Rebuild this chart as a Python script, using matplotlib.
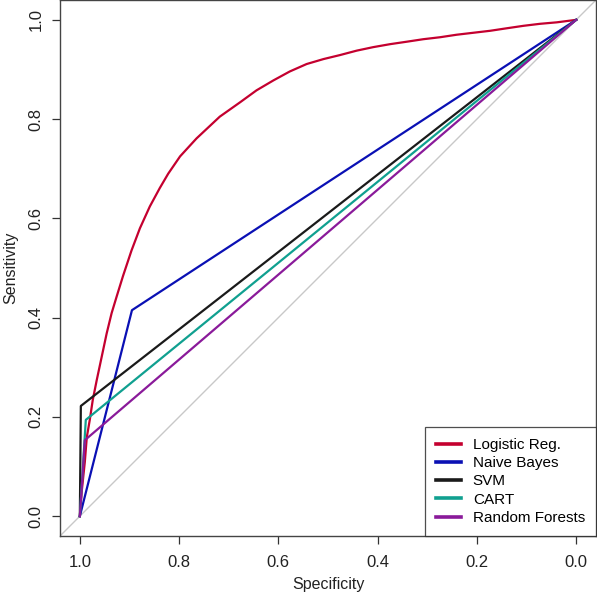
import matplotlib
matplotlib.use("Agg")
import matplotlib.pyplot as plt

plt.rcParams['font.family'] = ['Liberation Sans', 'DejaVu Sans']

# ROC curves: specificity (x) and sensitivity (y)
lr_spec = [1.0, 0.996, 0.990, 0.986, 0.980, 0.974, 0.966, 0.956, 0.946, 0.936,
           0.926, 0.913, 0.896, 0.879, 0.859, 0.839, 0.822, 0.798, 0.765, 0.718,
           0.677, 0.644, 0.610, 0.577, 0.543, 0.509, 0.476, 0.442, 0.409, 0.375,
           0.341, 0.308, 0.274, 0.241, 0.207, 0.173, 0.140, 0.106, 0.073, 0.039, 0.0]
lr_sens = [0.0, 0.052, 0.109, 0.159, 0.194, 0.234, 0.274, 0.321, 0.368, 0.409,
           0.442, 0.484, 0.535, 0.580, 0.624, 0.661, 0.690, 0.725, 0.761, 0.805,
           0.834, 0.858, 0.878, 0.896, 0.911, 0.921, 0.929, 0.938, 0.945, 0.951,
           0.956, 0.961, 0.965, 0.970, 0.974, 0.978, 0.983, 0.988, 0.992, 0.995, 1.0]

nb_spec = [1.0, 0.895, 0.0]
nb_sens = [0.0, 0.415, 1.0]

svm_spec = [1.0, 0.998, 0.0]
svm_sens = [0.0, 0.222, 1.0]

cart_spec = [1.0, 0.988, 0.0]
cart_sens = [0.0, 0.194, 1.0]

rf_spec = [1.0, 0.990, 0.0]
rf_sens = [0.0, 0.153, 1.0]

labels = ["Logistic Reg.", "Naive Bayes", "SVM", "CART", "Random Forests"]
colors = ["#C4002F", "#0A10B4", "#1A1A1A", "#10A090", "#8A1A9A"]

ticks = [0.0, 0.2, 0.4, 0.6, 0.8, 1.0]
tick_labels = ["0.0", "0.2", "0.4", "0.6", "0.8", "1.0"]

fig = plt.figure(figsize=(5.97, 6.0), dpi=100)
ax = fig.add_axes([60/597, 64/600, 536/597, 536/600])

ax.axline((1, 0), (0, 1), color="#C8C8C8", lw=1.0, zorder=1)

series = [(lr_spec, lr_sens), (nb_spec, nb_sens), (svm_spec, svm_sens),
          (cart_spec, cart_sens), (rf_spec, rf_sens)]
for (sx, sy), lab, col in zip(series, labels, colors):
    ax.plot(sx, sy, color=col, lw=1.6, label=lab, zorder=2)

ax.set_xlim(1.04, -0.04)
ax.set_ylim(-0.04, 1.04)
ax.set_xticks(ticks)
ax.set_xticklabels(tick_labels)
ax.set_yticks(ticks)
ax.set_yticklabels(tick_labels, rotation=90, va='center')
ax.tick_params(axis='both', direction='out', length=6, width=0.9, color="#333333",
               labelsize=12, labelcolor="#222222")
ax.tick_params(axis='x', pad=8)
ax.tick_params(axis='y', pad=6)
for s in ax.spines.values():
    s.set_color("#444444")
    s.set_linewidth(1.0)

ax.set_xlabel("Specificity", fontsize=11.5, color="#222222", labelpad=5)
ax.set_ylabel("Sensitivity", fontsize=11.5, color="#222222", labelpad=7)

leg = ax.legend(loc='lower right', borderaxespad=0, fontsize=11, frameon=True,
                fancybox=False, edgecolor="#222222", handlelength=1.6,
                handletextpad=0.8, labelspacing=0.28, borderpad=0.72)
leg.get_frame().set_linewidth(0.9)
for h in leg.get_lines():
    h.set_linewidth(2.6)

fig.savefig("out.png", dpi=100)
